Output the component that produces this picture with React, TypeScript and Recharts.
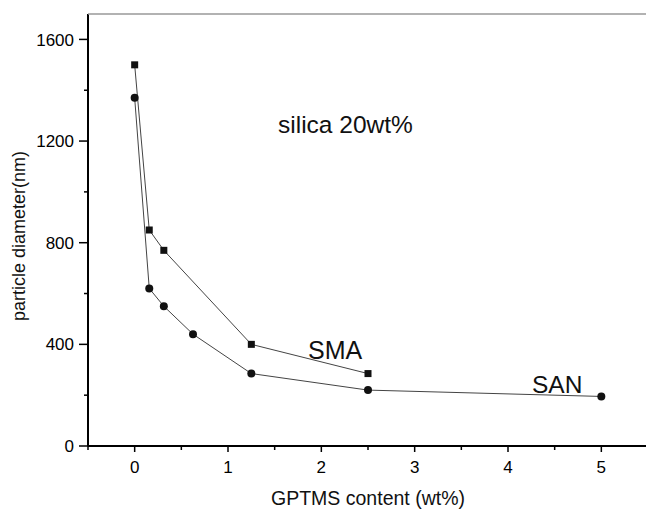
import { LineChart, Line, XAxis, YAxis } from "recharts"

const smaX = [0, 0.15625, 0.3125, 1.25, 2.5]
const smaY = [1500, 850, 770, 400, 285]

const sanX = [0, 0.15625, 0.3125, 0.625, 1.25, 2.5, 5]
const sanY = [1370, 620, 550, 440, 285, 220, 195]

const xTicks = [-0.5, 0, 0.5, 1, 1.5, 2, 2.5, 3, 3.5, 4, 4.5, 5, 5.5]
const yTicks = [0, 200, 400, 600, 800, 1000, 1200, 1400, 1600]

const sma = smaX.map((x, i) => ({ x, y: smaY[i] }))
const san = sanX.map((x, i) => ({ x, y: sanY[i] }))

const font = "'Liberation Sans', Arial, sans-serif"

function YTick(props: any) {
  const { x, y, payload } = props
  const major = payload.value % 400 === 0
  return (
    <g>
      <line x1={x - (major ? 9 : 4)} x2={x} y1={y} y2={y} stroke="#000" strokeWidth={1.5} />
      {major && (
        <text x={x - 14} y={y} dy="0.36em" textAnchor="end" fontSize={17} fill="#000" fontFamily={font}>
          {payload.value}
        </text>
      )}
    </g>
  )
}

function XTick(props: any) {
  const { x, y, payload } = props
  const major = Number.isInteger(payload.value)
  return (
    <g>
      <line x1={x} x2={x} y1={y} y2={y + (major ? 6 : 4)} stroke="#000" strokeWidth={1.5} />
      {major && (
        <text x={x} y={y + 27} textAnchor="middle" fontSize={17} fill="#000" fontFamily={font}>
          {payload.value}
        </text>
      )}
    </g>
  )
}

function Square(props: any) {
  const { cx, cy, index } = props
  return <rect key={`s${index}`} x={cx - 3.5} y={cy - 3.5} width={7} height={7} fill="#111" />
}

function Circle(props: any) {
  const { cx, cy, index } = props
  return <circle key={`c${index}`} cx={cx} cy={cy} r={4} fill="#111" />
}

export default function App() {
  return (
    <div style={{ width: 646, height: 509, overflow: "hidden", position: "relative", background: "#fff" }}>
      <style>{"body{margin:0}"}</style>
      <LineChart width={650} height={509} margin={{ top: 14, right: 2, bottom: 33, left: 0 }} style={{ fontFamily: font }}>
        <XAxis
          dataKey="x"
          type="number"
          domain={[-0.5, 5.5]}
          ticks={xTicks}
          interval={0}
          allowDataOverflow
          height={30}
          tickSize={0}
          tickMargin={0}
          tick={<XTick />}
          axisLine={{ stroke: "#000", strokeWidth: 2 }}
        />
        <YAxis
          type="number"
          domain={[0, 1700]}
          ticks={yTicks}
          interval={0}
          allowDataOverflow
          width={88}
          tickSize={0}
          tickMargin={0}
          tick={<YTick />}
          axisLine={{ stroke: "#000", strokeWidth: 2 }}
        />
        <Line data={sma} dataKey="y" type="linear" stroke="#444" strokeWidth={1} dot={Square} isAnimationActive={false} />
        <Line data={san} dataKey="y" type="linear" stroke="#444" strokeWidth={1} dot={Circle} isAnimationActive={false} />
      </LineChart>
      <svg width={646} height={509} style={{ position: "absolute", left: 0, top: 0, pointerEvents: "none" }} fontFamily={font}>
        <line x1={88} x2={646} y1={14} y2={14} stroke="#999" strokeWidth={1.5} />
        <text x={278} y={133} fontSize={24.5} fill="#111">silica 20wt%</text>
        <text x={308} y={359} fontSize={25} fill="#111">SMA</text>
        <text x={532} y={393} fontSize={24.5} fill="#111">SAN</text>
        <text x={368} y={505} fontSize={19.5} textAnchor="middle" fill="#111">GPTMS content (wt%)</text>
        <text transform="translate(25,236) rotate(-90)" fontSize={18} textAnchor="middle" fill="#111">particle diameter(nm)</text>
      </svg>
    </div>
  )
}
